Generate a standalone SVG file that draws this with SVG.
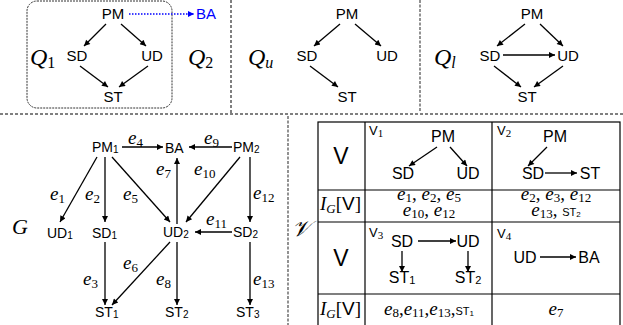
<svg xmlns="http://www.w3.org/2000/svg" width="623" height="325" viewBox="0 0 623 325">
<style>
.n{font-family:"Liberation Sans",Arial,sans-serif;font-size:15px;fill:#000}
.g{font-family:"Liberation Sans",Arial,sans-serif;font-size:14px;fill:#000}
.t{font-family:"Liberation Sans",Arial,sans-serif;font-size:16px;fill:#000}
.m{font-family:"Liberation Serif","Times New Roman",serif;font-style:italic;fill:#000}
.e{font-size:19px}
.s{font-style:normal;font-size:13px}
.ss{font-family:"Liberation Sans",Arial,sans-serif;font-style:normal;font-size:10px}
.a{stroke:#000;stroke-width:1.3;fill:none;marker-end:url(#ah)}
.d{stroke:#000;stroke-width:1;stroke-dasharray:3,2;fill:none}
.dg{stroke:#777;stroke-width:1.6;stroke-dasharray:3,1.5;fill:none}
.tb{stroke:#000;stroke-width:1.2;fill:none}
</style>
<defs>
<marker id="ah" viewBox="0 0 10 10" refX="10" refY="5" markerWidth="8" markerHeight="6" markerUnits="userSpaceOnUse" orient="auto"><path d="M0,0 L10,5 L0,10 z" fill="#000"/></marker>
<marker id="ahb" viewBox="0 0 10 10" refX="10" refY="5" markerWidth="8" markerHeight="6" markerUnits="userSpaceOnUse" orient="auto"><path d="M0,0 L10,5 L0,10 z" fill="#00f"/></marker>
</defs>
<rect width="623" height="325" fill="#fff"/>

<g id="dividers">
<line class="d" x1="0" y1="114" x2="623" y2="114"/>
<line class="d" x1="231" y1="0" x2="231" y2="114"/>
<line class="dg" x1="420" y1="0" x2="420" y2="112"/>
<line class="dg" x1="288" y1="116" x2="288" y2="325"/>
<rect x="27" y="1" width="145" height="107" rx="10" fill="none" stroke="#333" stroke-width="1" stroke-dasharray="2,1"/>
</g>

<g id="labels">
<text class="m" x="30" y="65" font-size="24">Q<tspan class="s" style="font-size:16px" dy="3">1</tspan></text>
<text class="m" x="188" y="65" font-size="24">Q<tspan class="s" style="font-size:16px" dy="3">2</tspan></text>
<text class="m" x="248" y="65" font-size="24">Q<tspan font-size="16" dy="3">u</tspan></text>
<text class="m" x="434" y="65" font-size="24">Q<tspan font-size="16" dy="3">l</tspan></text>
<text class="m" x="12" y="234" font-size="22">G</text>
<text class="m" x="292" y="236" font-size="22">𝒱</text>
</g>

<g id="q1">
<text class="n" x="113" y="19" text-anchor="middle">PM</text>
<text class="n" x="206" y="19" text-anchor="middle" style="fill:#00f">BA</text>
<text class="n" x="77" y="61" text-anchor="middle">SD</text>
<text class="n" x="152" y="61" text-anchor="middle">UD</text>
<text class="n" x="113" y="102" text-anchor="middle">ST</text>
</g>
<g id="qu">
<text class="n" x="347" y="19" text-anchor="middle">PM</text>
<text class="n" x="307" y="61" text-anchor="middle">SD</text>
<text class="n" x="387" y="61" text-anchor="middle">UD</text>
<text class="n" x="347" y="102" text-anchor="middle">ST</text>
</g>
<g id="ql">
<text class="n" x="532" y="19" text-anchor="middle">PM</text>
<text class="n" x="490" y="61" text-anchor="middle">SD</text>
<text class="n" x="568" y="61" text-anchor="middle">UD</text>
<text class="n" x="527" y="102" text-anchor="middle">ST</text>
</g>

<g id="graphG">
<g id="PM1"><text class="g" x="92" y="152">PM<tspan class="ss" dy="1">1</tspan></text></g>
<g id="BA"><text class="g" x="165" y="153">BA</text></g>
<g id="PM2"><text class="g" x="233" y="152">PM<tspan class="ss" dy="1">2</tspan></text></g>
<g id="UD1"><text class="g" x="47" y="238">UD<tspan class="ss" dy="1">1</tspan></text></g>
<g id="SD1"><text class="g" x="92" y="238">SD<tspan class="ss" dy="1">1</tspan></text></g>
<g id="UD2"><text class="g" x="163" y="237">UD<tspan class="ss" dy="1">2</tspan></text></g>
<g id="SD2"><text class="g" x="233" y="237">SD<tspan class="ss" dy="1">2</tspan></text></g>
<g id="ST1"><text class="g" x="95" y="317">ST<tspan class="ss" dy="1">1</tspan></text></g>
<g id="ST2"><text class="g" x="165" y="317">ST<tspan class="ss" dy="1">2</tspan></text></g>
<g id="ST3"><text class="g" x="236" y="317">ST<tspan class="ss" dy="1">3</tspan></text></g>
</g>

<g id="connectors">
<line x1="129" y1="14" x2="194" y2="14" stroke="#00f" stroke-width="1.3" stroke-dasharray="1.5,1.5" marker-end="url(#ahb)"/>
<line class="a" x1="106" y1="24" x2="84" y2="46"/>
<line class="a" x1="121" y1="24" x2="146" y2="46"/>
<line class="a" x1="80" y1="66" x2="108" y2="87"/>
<line class="a" x1="148" y1="66" x2="119" y2="87"/>

<line class="a" x1="340" y1="24" x2="314" y2="46"/>
<line class="a" x1="355" y1="24" x2="381" y2="46"/>
<line class="a" x1="310" y1="66" x2="338" y2="87"/>

<line class="a" x1="525" y1="24" x2="497" y2="46"/>
<line class="a" x1="540" y1="24" x2="563" y2="46"/>
<line class="a" x1="503" y1="55" x2="555" y2="55"/>
<line class="a" x1="494" y1="66" x2="521" y2="87"/>
<line class="a" x1="563" y1="66" x2="534" y2="87"/>

<line class="a" x1="122" y1="147" x2="163" y2="147"/>
<line class="a" x1="232" y1="147" x2="189" y2="147"/>
<line class="a" x1="97" y1="157" x2="60" y2="222"/>
<line class="a" x1="105" y1="157" x2="105" y2="222"/>
<line class="a" x1="112" y1="157" x2="170" y2="222"/>
<line class="a" x1="177" y1="224" x2="177" y2="158"/>
<line class="a" x1="240" y1="157" x2="186" y2="222"/>
<line class="a" x1="250" y1="157" x2="250" y2="222"/>
<line class="a" x1="232" y1="232" x2="195" y2="232"/>
<line class="a" x1="105" y1="242" x2="105" y2="305"/>
<line class="a" x1="170" y1="242" x2="112" y2="305"/>
<line class="a" x1="177" y1="242" x2="177" y2="305"/>
<line class="a" x1="250" y1="242" x2="250" y2="305"/>

<line class="a" x1="437" y1="147" x2="409" y2="166"/>
<line class="a" x1="450" y1="147" x2="467" y2="166"/>
<line class="a" x1="547" y1="147" x2="528" y2="166"/>
<line class="a" x1="545" y1="173" x2="577" y2="173"/>
<line class="a" x1="418" y1="241" x2="456" y2="241"/>
<line class="a" x1="402" y1="251" x2="402" y2="272"/>
<line class="a" x1="468" y1="251" x2="468" y2="272"/>
<line class="a" x1="540" y1="257" x2="576" y2="257"/>
</g>

<g id="edgeLabels">
<text class="m e" x="128" y="144">e<tspan class="s" dy="3">4</tspan></text>
<text class="m e" x="204" y="144">e<tspan class="s" dy="3">9</tspan></text>
<text class="m e" x="50" y="200">e<tspan class="s" dy="3">1</tspan></text>
<text class="m e" x="85" y="200">e<tspan class="s" dy="3">2</tspan></text>
<text class="m e" x="123" y="200">e<tspan class="s" dy="3">5</tspan></text>
<text class="m e" x="156" y="175">e<tspan class="s" dy="3">7</tspan></text>
<text class="m e" x="194" y="175">e<tspan class="s" dy="3">10</tspan></text>
<text class="m e" x="253" y="199">e<tspan class="s" dy="3">12</tspan></text>
<text class="m e" x="206" y="225">e<tspan class="s" dy="3">11</tspan></text>
<text class="m e" x="83" y="285">e<tspan class="s" dy="3">3</tspan></text>
<text class="m e" x="123" y="269">e<tspan class="s" dy="3">6</tspan></text>
<text class="m e" x="156" y="285">e<tspan class="s" dy="3">8</tspan></text>
<text class="m e" x="253" y="285">e<tspan class="s" dy="3">13</tspan></text>
</g>

<g id="table">
<rect class="tb" x="318" y="122" width="302" height="205"/>
<line class="tb" x1="365" y1="122" x2="365" y2="327"/>
<line class="tb" x1="492" y1="122" x2="492" y2="327"/>
<line class="tb" x1="318" y1="190" x2="620" y2="190"/>
<line class="tb" x1="318" y1="222" x2="620" y2="222"/>
<line class="tb" x1="318" y1="294" x2="620" y2="294"/>

<text class="t" x="341" y="164" text-anchor="middle" style="font-size:23px">V</text>
<text class="t" x="341" y="266" text-anchor="middle" style="font-size:23px">V</text>
<text class="m" x="320" y="210" font-size="19">I<tspan font-size="13" dy="3">G</tspan><tspan font-style="normal" dy="-3">[</tspan><tspan font-family="Liberation Sans,Arial,sans-serif" font-style="normal">V</tspan><tspan font-style="normal">]</tspan></text>
<text class="m" x="320" y="315" font-size="19">I<tspan font-size="13" dy="3">G</tspan><tspan font-style="normal" dy="-3">[</tspan><tspan font-family="Liberation Sans,Arial,sans-serif" font-style="normal">V</tspan><tspan font-style="normal">]</tspan></text>

<g id="V1">
<text class="g" x="369" y="135" style="font-size:13px">V<tspan font-family="Liberation Serif,serif" font-size="11" dy="2">1</tspan></text>
<text class="t" x="443" y="142" text-anchor="middle">PM</text>
<text class="t" x="403" y="179" text-anchor="middle">SD</text>
<text class="t" x="468" y="179" text-anchor="middle">UD</text>
</g>
<g id="V2">
<text class="g" x="497" y="135" style="font-size:13px">V<tspan font-family="Liberation Serif,serif" font-size="11" dy="2">2</tspan></text>
<text class="t" x="555" y="142" text-anchor="middle">PM</text>
<text class="t" x="533" y="179" text-anchor="middle">SD</text>
<text class="t" x="590" y="179" text-anchor="middle">ST</text>
</g>
<g id="V3">
<text class="g" x="369" y="237" style="font-size:13px">V<tspan font-family="Liberation Serif,serif" font-size="11" dy="2">3</tspan></text>
<text class="t" x="402" y="247" text-anchor="middle">SD</text>
<text class="t" x="468" y="247" text-anchor="middle">UD</text>
<text class="t" x="402" y="283" text-anchor="middle">ST<tspan class="ss" style="font-size:11px" dy="1">1</tspan></text>
<text class="t" x="468" y="283" text-anchor="middle">ST<tspan class="ss" style="font-size:11px" dy="1">2</tspan></text>
</g>
<g id="V4">
<text class="g" x="497" y="238" style="font-size:13px">V<tspan font-family="Liberation Serif,serif" font-size="11" dy="2">4</tspan></text>
<text class="t" x="525" y="263" text-anchor="middle">UD</text>
<text class="t" x="589" y="263" text-anchor="middle">BA</text>
</g>

<text class="m e" x="429" y="200" text-anchor="middle">e<tspan class="s" dy="2">1</tspan><tspan font-style="normal" dy="-2">, </tspan>e<tspan class="s" dy="2">2</tspan><tspan font-style="normal" dy="-2">, </tspan>e<tspan class="s" dy="2">5</tspan></text>
<text class="m e" x="429" y="216" text-anchor="middle">e<tspan class="s" dy="2">10</tspan><tspan font-style="normal" dy="-2">, </tspan>e<tspan class="s" dy="2">12</tspan></text>
<text class="m e" x="556" y="200" text-anchor="middle">e<tspan class="s" dy="2">2</tspan><tspan font-style="normal" dy="-2">, </tspan>e<tspan class="s" dy="2">3</tspan><tspan font-style="normal" dy="-2">, </tspan>e<tspan class="s" dy="2">12</tspan></text>
<text class="m e" x="556" y="216" text-anchor="middle">e<tspan class="s" dy="2">13</tspan><tspan font-style="normal" dy="-2">, </tspan><tspan class="ss" style="font-size:11px">ST</tspan><tspan class="ss" style="font-size:8px" dy="1">2</tspan></text>
<text class="m e" x="429" y="315" text-anchor="middle">e<tspan class="s" dy="2">8</tspan><tspan font-style="normal" dy="-2">,</tspan>e<tspan class="s" dy="2">11</tspan><tspan font-style="normal" dy="-2">,</tspan>e<tspan class="s" dy="2">13</tspan><tspan font-style="normal" dy="-2">,</tspan><tspan class="ss" style="font-size:11px">ST</tspan><tspan class="ss" style="font-size:8px" dy="1">1</tspan></text>
<text class="m e" x="556" y="315" text-anchor="middle">e<tspan class="s" dy="2">7</tspan></text>
</g>
</svg>
